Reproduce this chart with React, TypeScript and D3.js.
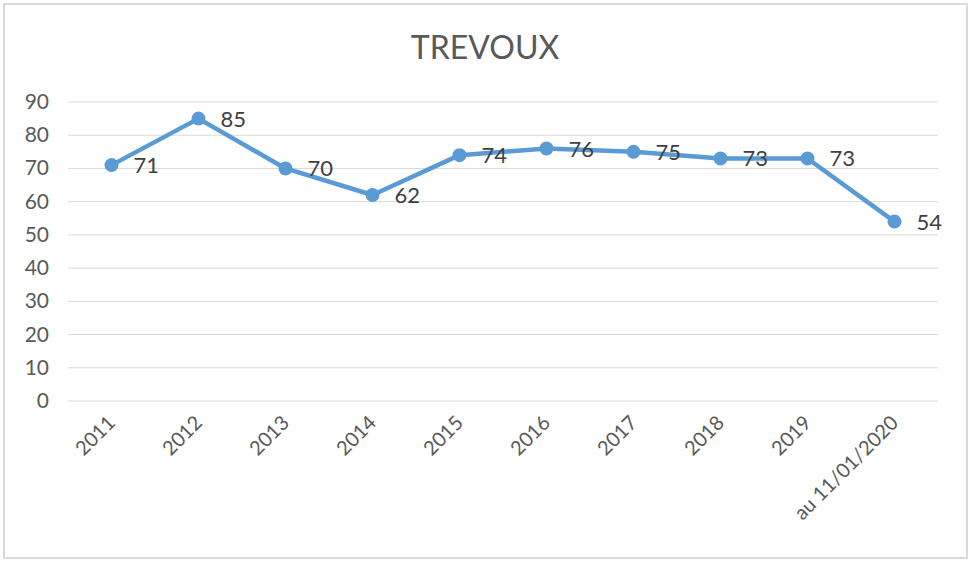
import { useEffect, useRef } from 'react'
import * as d3 from 'd3'

const categories = ['2011', '2012', '2013', '2014', '2015', '2016', '2017', '2018', '2019', 'au 11/01/2020']
const values = [71, 85, 70, 62, 74, 76, 75, 73, 73, 54]
const yTicks = [0, 10, 20, 30, 40, 50, 60, 70, 80, 90]

const W = 971
const H = 562
const FONT = 'Lato, Calibri, sans-serif'

export default function App() {
  const svgRef = useRef<SVGSVGElement>(null)

  useEffect(() => {
    const svg = d3.select(svgRef.current)
    svg.selectAll('*').remove()

    // chart frame
    svg.append('rect')
      .attr('x', 4).attr('y', 4).attr('width', 963).attr('height', 554)
      .attr('fill', '#fff').attr('stroke', '#d9d9d9').attr('stroke-width', 2)

    svg.append('text')
      .attr('x', 485).attr('y', 59)
      .attr('text-anchor', 'middle')
      .attr('font-family', FONT).attr('font-size', 32)
      .attr('fill', '#595959')
      .text('TREVOUX')

    const x = d3.scaleBand().domain(categories).range([68, 938])
    const y = d3.scaleLinear().domain([0, 90]).range([401, 102])

    const grid = svg.append('g')
    yTicks.forEach(t => {
      grid.append('line')
        .attr('x1', 68).attr('x2', 938)
        .attr('y1', y(t)).attr('y2', y(t))
        .attr('stroke', '#d9d9d9').attr('stroke-width', 1)
      grid.append('text')
        .attr('x', 49).attr('y', y(t) + 7)
        .attr('text-anchor', 'end')
        .attr('font-family', FONT).attr('font-size', 21)
        .attr('fill', '#595959')
        .text(t)
    })

    const cx = (c: string) => (x(c) ?? 0) + x.bandwidth() / 2

    categories.forEach(c => {
      const tx = cx(c) + 5
      const ty = 424
      svg.append('text')
        .attr('transform', `translate(${tx},${ty}) rotate(-45)`)
        .attr('text-anchor', 'end')
        .attr('font-family', FONT).attr('font-size', 20)
        .attr('fill', '#595959')
        .text(c)
    })

    const line = d3.line<number>()
      .x((_, i) => cx(categories[i]))
      .y(d => y(d))

    svg.append('path')
      .datum(values)
      .attr('d', line)
      .attr('fill', 'none')
      .attr('stroke', '#5b9bd5')
      .attr('stroke-width', 4.5)
      .attr('stroke-linejoin', 'round')

    values.forEach((v, i) => {
      const px = cx(categories[i])
      svg.append('circle')
        .attr('cx', px).attr('cy', y(v)).attr('r', 7)
        .attr('fill', '#5b9bd5')
      svg.append('text')
        .attr('x', px + 22).attr('y', y(v) + 8)
        .attr('font-family', FONT).attr('font-size', 22)
        .attr('fill', '#404040')
        .text(v)
    })
  }, [])

  return <svg ref={svgRef} width={W} height={H} style={{ position: 'absolute', left: 0, top: 0 }} />
}
